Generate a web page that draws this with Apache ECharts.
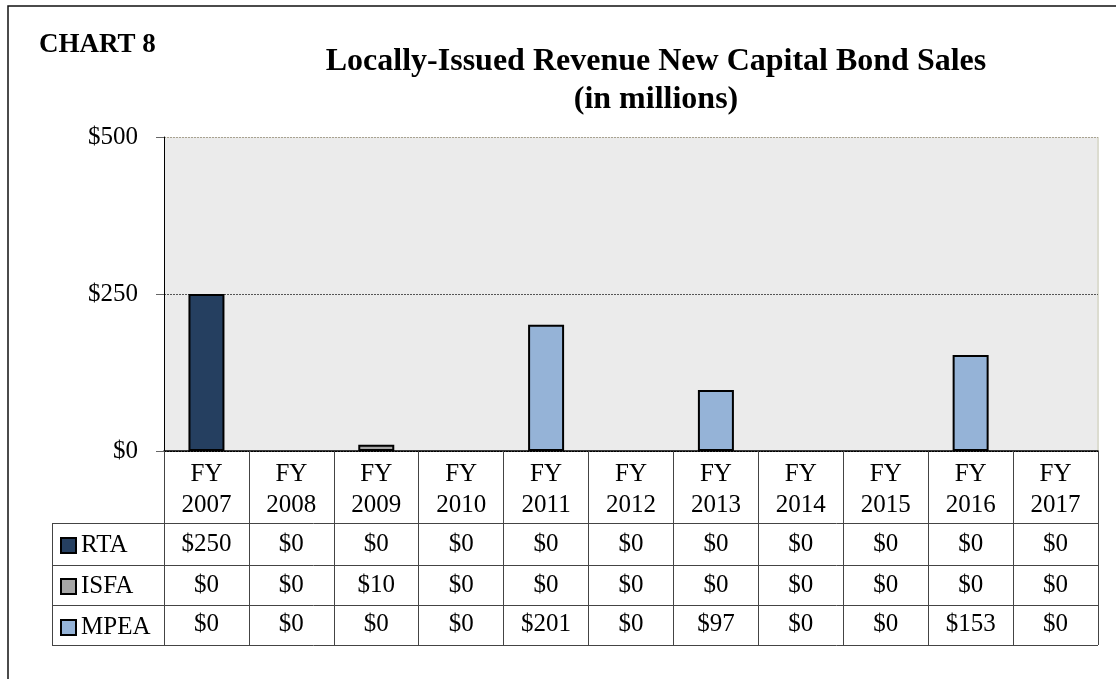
<!DOCTYPE html>
<html>
<head>
<meta charset="utf-8">
<script src="https://cdn.jsdelivr.net/npm/echarts@6/dist/echarts.min.js"></script>
<style>html,body{margin:0;padding:0;background:#fff}#c{width:1116px;height:679px}</style>
</head>
<body>
<div id="c"></div>
<script>
const categories = ['FY\n2007','FY\n2008','FY\n2009','FY\n2010','FY\n2011','FY\n2012','FY\n2013','FY\n2014','FY\n2015','FY\n2016','FY\n2017'];
const seriesNames = ['RTA','ISFA','MPEA'];
const rta  = [250,0,0,0,0,0,0,0,0,0,0];
const isfa = [0,0,10,0,0,0,0,0,0,0,0];
const mpea = [0,0,0,0,201,0,97,0,0,153,0];
const yTicks = [0,250,500];
const colors = ['#253f60','#a6a6a6','#95b3d7'];

const FONT = 'Liberation Serif';
const FS = 25;
const G = {left:164, right:18, top:137, bottom:228}; // plot 164..1098, 137..451
const chart = echarts.init(document.getElementById('c'));
const rows = [rta, isfa, mpea];
const rowOffsets = [81, 122, 161];

const tableXAxes = rows.map((arr, i) => ({
  type:'category', data: categories, position:'bottom', offset: rowOffsets[i],
  axisLine:{show:false}, axisTick:{show:false},
  axisLabel:{margin:0, fontFamily:FONT, fontSize:FS, lineHeight:25, color:'#000',
    formatter:(v, idx) => '$' + arr[idx]}
}));

chart.setOption({
  animation:false,
  textStyle:{fontFamily:FONT},
  title:[
    {text:'CHART 8', left:34, top:27, textStyle:{fontFamily:FONT, fontSize:27, fontWeight:'bold', color:'#000'}},
    {text:'Locally-Issued Revenue New Capital Bond Sales\n(in millions)', left:651, top:38, textAlign:'center',
     textStyle:{fontFamily:FONT, fontSize:32, fontWeight:'bold', color:'#000', lineHeight:38}}
  ],
  legend:{
    orient:'vertical', left:55, top:528, itemGap:16, itemWidth:15, itemHeight:15,
    icon:'rect', selectedMode:false,
    textStyle:{fontFamily:FONT, fontSize:FS, color:'#000', lineHeight:25, padding:[0,0,0,0]},
    data: seriesNames
  },
  grid:{left:G.left, right:G.right, top:G.top, bottom:G.bottom, show:true, backgroundColor:'#ebebeb', borderWidth:0},
  xAxis:[{
    type:'category', data:categories, position:'bottom',
    axisLine:{show:true, lineStyle:{color:'#000', width:1.5}},
    axisTick:{show:true, alignWithLabel:false, length:194, lineStyle:{color:'#444', width:1}},
    axisLabel:{margin:8, fontFamily:FONT, fontSize:FS, color:'#000', lineHeight:31}
  }].concat(tableXAxes),
  yAxis:{
    type:'value', min:0, max:500, interval:250,
    axisLine:{show:true, lineStyle:{color:'#000', width:1}},
    axisTick:{show:true, length:8, lineStyle:{color:'#666'}},
    axisLabel:{margin:26, fontFamily:FONT, fontSize:FS, color:'#000', formatter:v => '$' + v},
    splitLine:{show:true, lineStyle:{type:[2,1], width:1, color:['#000','#555','#a8a290']}}
  },
  series: seriesNames.map((n, i) => ({
    name:n, type:'bar', stack:'total', barWidth:36, xAxisIndex:0,
    data: rows[i].map(v => v === 0 ? '-' : v),
    itemStyle:{color:colors[i], borderColor:'#000', borderWidth:2},
    emphasis:{disabled:true}
  })),
  graphic:[
    {type:'rect', shape:{x:8, y:6, width:1130, height:700}, style:{fill:'none', stroke:'#111', lineWidth:1.5}, silent:true},
    {type:'line', shape:{x1:1098, y1:137, x2:1098, y2:451}, style:{stroke:'#dcdcd0', lineWidth:2}, silent:true},
    {type:'line', shape:{x1:52, y1:523.5, x2:1098, y2:523.5}, style:{stroke:'#444', lineWidth:1}, silent:true},
    {type:'line', shape:{x1:52, y1:565.5, x2:1098, y2:565.5}, style:{stroke:'#444', lineWidth:1}, silent:true},
    {type:'line', shape:{x1:52, y1:605.5, x2:1098, y2:605.5}, style:{stroke:'#444', lineWidth:1}, silent:true},
    {type:'line', shape:{x1:52, y1:645.5, x2:1098, y2:645.5}, style:{stroke:'#444', lineWidth:1}, silent:true},
    {type:'line', shape:{x1:52.5, y1:523, x2:52.5, y2:646}, style:{stroke:'#444', lineWidth:1}, silent:true}
  ]
});
</script>
</body>
</html>
